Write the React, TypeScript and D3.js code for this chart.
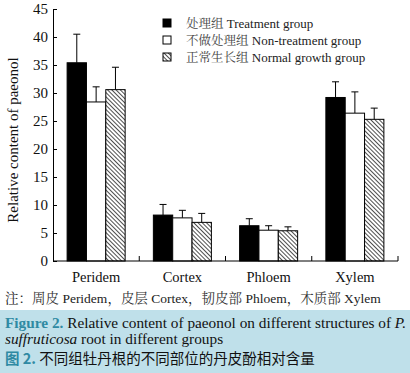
import React from 'react';
import * as d3 from 'd3';

const categories = ['Peridem', 'Cortex', 'Phloem', 'Xylem'];
const groups = ['treatment', 'nonTreatment', 'normal'];
const groupCn = ['处理组', '不做处理组', '正常生长组'];
const groupEn = ['Treatment group', 'Non-treatment group', 'Normal growth group'];
const treatment = [35.4, 8.2, 6.3, 29.2];
const treatmentErr = [5.1, 1.9, 1.25, 2.8];
const nonTreatment = [28.4, 7.7, 5.5, 26.4];
const nonTreatmentErr = [2.7, 1.35, 0.8, 3.8];
const normal = [30.6, 6.9, 5.4, 25.3];
const normalErr = [4.0, 1.6, 0.7, 2.0];
const yTicks = [0, 5, 10, 15, 20, 25, 30, 35, 40, 45];
const noteCn = ['周皮', '皮层', '韧皮部', '木质部'];

const values = [treatment, nonTreatment, normal];
const errors = [treatmentErr, nonTreatmentErr, normalErr];

const serif = '"Liberation Serif", "Times New Roman", serif';
const cjkSerif = '"Noto Serif CJK SC", "Noto Sans CJK SC", serif';
const teal = '#2f8aa3';

const fillFor = (i: number) => (i === 0 ? '#000' : i === 1 ? '#fff' : 'url(#hatch)');

export default function App() {
  const left = 53;
  const right = 398;
  const top = 9;
  const bottom = 261;

  const x = d3.scaleBand<string>().domain(categories).range([left, right]).padding(0);
  const x1 = d3.scaleBand<string>().domain(groups).range([0, x.bandwidth()]).paddingInner(0).paddingOuter(0.73);
  const y = d3.scaleLinear().domain([0, 45]).range([bottom, top]);

  const yAxisRef = (node: SVGGElement | null) => {
    if (!node) return;
    const g = d3.select(node);
    g.call(d3.axisLeft(y).tickValues(yTicks).tickSizeInner(-4).tickSizeOuter(0).tickPadding(5));
    g.select('.domain').attr('stroke', '#000');
    g.selectAll('.tick line').attr('stroke', '#000');
    g.selectAll('.tick text')
      .attr('font-family', serif)
      .attr('font-size', 15)
      .attr('fill', '#111');
  };

  return (
    <div style={{ position: 'fixed', left: 0, top: 0, width: 410, height: 373, background: '#fff' }}>
      <svg width={410} height={373} style={{ display: 'block' }}>
        <defs>
          <pattern id="hatch" patternUnits="userSpaceOnUse" width={3} height={3} patternTransform="rotate(-45)">
            <rect width={3} height={3} fill="#fff" />
            <line x1={0} y1={0} x2={0} y2={3} stroke="#222" strokeWidth={1.6} />
          </pattern>
        </defs>

        {/* bars */}
        {categories.map((c, ci) => (
          <g key={c}>
            {groups.map((gname, gi) => {
              const bx = (x(c) ?? 0) + (x1(gname) ?? 0);
              const v = values[gi][ci];
              const e = errors[gi][ci];
              const cx = bx + x1.bandwidth() / 2;
              return (
                <g key={gname}>
                  <line x1={cx} x2={cx} y1={y(v)} y2={y(v + e)} stroke="#000" strokeWidth={1} />
                  <line x1={cx - 3.5} x2={cx + 3.5} y1={y(v + e)} y2={y(v + e)} stroke="#000" strokeWidth={1} />
                  <rect
                    x={bx}
                    y={y(v)}
                    width={x1.bandwidth()}
                    height={bottom - y(v)}
                    fill={fillFor(gi)}
                    stroke="#000"
                    strokeWidth={1}
                  />
                </g>
              );
            })}
          </g>
        ))}

        {/* axes */}
        <g ref={yAxisRef} transform={`translate(${left},0)`} />
        <line x1={left} x2={right} y1={bottom} y2={bottom} stroke="#000" />
        {categories.map((c) => {
          const tx = (x(c) ?? 0) + x.step();
          return <line key={'t' + c} x1={tx} x2={tx} y1={bottom} y2={bottom - 5} stroke="#000" />;
        })}
        {categories.map((c) => (
          <text
            key={'l' + c}
            x={(x(c) ?? 0) + x.bandwidth() / 2}
            y={282}
            textAnchor="middle"
            fontFamily={serif}
            fontSize={14.5}
            fill="#111"
          >
            {c}
          </text>
        ))}

        <text
          transform="translate(18,140) rotate(-90)"
          textAnchor="middle"
          fontFamily={serif}
          fontSize={15}
          fill="#111"
        >
          Relative content of paeonol
        </text>

        {/* legend */}
        {groupCn.map((cn, i) => (
          <g key={cn} transform={`translate(163,${23 + i * 17})`}>
            <rect x={0} y={-4} width={8} height={8} fill={fillFor(i)} stroke="#000" strokeWidth={1} />
            <text x={23} y={4.5} fontSize={12.5} fill="#222">
              <tspan fontFamily={cjkSerif} fill="#444">{cn}</tspan>
              <tspan fontFamily={serif} fontSize={13}> {groupEn[i]}</tspan>
            </text>
          </g>
        ))}

        {/* note */}
        <text x={5} y={303} fontSize={13.5} fill="#222">
          <tspan fontFamily={cjkSerif}>注：</tspan>
          {categories.map((c, i) => (
            <React.Fragment key={'n' + c}>
              <tspan fontFamily={cjkSerif} fill="#333">{noteCn[i]}</tspan>
              <tspan fontFamily={serif}> {c}</tspan>
              {i < categories.length - 1 && <tspan fontFamily={cjkSerif}>，</tspan>}
            </React.Fragment>
          ))}
        </text>

        {/* caption box */}
        <rect x={0} y={310} width={410} height={63} fill="#bfe0ea" />
        <text x={5} y={328} fontFamily={serif} fontSize={15.3} fill="#111">
          <tspan fill={teal} fontWeight="bold">Figure 2.</tspan> Relative content of paeonol on different structures of{' '}
          <tspan fontStyle="italic">P.</tspan>
        </text>
        <text x={5} y={344} fontFamily={serif} fontSize={15.3} fill="#111">
          <tspan fontStyle="italic">suffruticosa</tspan> root in different groups
        </text>
        <text x={5} y={364} fontFamily='"Noto Sans CJK SC", sans-serif' fontSize={14.5} fill="#111">
          <tspan fill={teal} fontWeight="bold">图 2.</tspan> 不同组牡丹根的不同部位的丹皮酚相对含量
        </text>
      </svg>
    </div>
  );
}
